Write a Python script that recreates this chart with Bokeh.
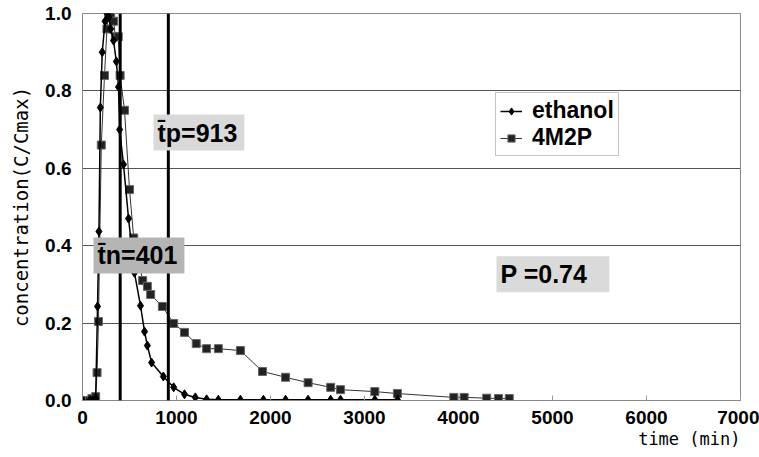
from bokeh.plotting import figure
from bokeh.models import (ColumnDataSource, Span, Label, Legend, LegendItem,
                          FixedTicker, NumeralTickFormatter, Range1d, Title)
from bokeh.embed import file_html
from bokeh.resources import INLINE

# ---- data ----
eth_t = [0, 75, 100, 140, 160, 175, 190, 210, 240, 260, 280, 300, 330, 360, 383, 395,
         436, 490, 553, 617, 660, 690, 735, 860, 970, 1085, 1200, 1320, 1445, 1680,
         1925, 2160, 2400, 2640, 2745, 3110, 3350]
eth_c = [0, 0, 0, 0.005, 0.243, 0.437, 0.757, 0.90, 0.98, 1.0, 0.99, 0.96, 0.93, 0.876,
         0.81, 0.70, 0.61, 0.47, 0.33, 0.245, 0.178, 0.142, 0.098, 0.062, 0.034, 0.016,
         0.008, 0.003, 0.002, 0.002, 0.002, 0.002, 0.002, 0.002, 0.002, 0.002, 0.002]

m4_t = [0, 75, 100, 140, 155, 170, 200, 234, 260, 280, 300, 330, 350, 380, 400, 447,
        500, 545, 640, 690, 725, 850, 970, 1085, 1210, 1320, 1445, 1680, 1915, 2160,
        2400, 2640, 2745, 3110, 3350, 3950, 4060, 4300, 4425, 4540]
m4_c = [0, 0, 0.005, 0.01, 0.072, 0.204, 0.66, 0.84, 0.96, 1.0, 1.0, 0.98, 0.94, 0.94,
        0.84, 0.75, 0.545, 0.42, 0.31, 0.295, 0.274, 0.243, 0.199, 0.176, 0.147, 0.134,
        0.134, 0.129, 0.075, 0.06, 0.046, 0.034, 0.028, 0.023, 0.018, 0.008, 0.008,
        0.006, 0.005, 0.005]

mean_times = [401, 913]
x_ticks = [0, 1000, 2000, 3000, 4000, 5000, 6000, 7000]
y_ticks = [0.0, 0.2, 0.4, 0.6, 0.8, 1.0]

TICK_FONT = "'Liberation Sans Narrow', 'Liberation Sans', sans-serif"
MONO_FONT = "'DejaVu Sans Mono', monospace"

p = figure(width=759, height=457, output_backend="svg", toolbar_location=None,
           x_range=Range1d(0, 7000), y_range=Range1d(0, 1.0),
           min_border_left=82, min_border_right=19, min_border_top=13,
           min_border_bottom=57)
p.background_fill_color = "white"
p.border_fill_color = "white"
p.outline_line_color = "#888888"
p.outline_line_width = 1

p.xgrid.visible = False
p.ygrid.grid_line_color = "#555555"
p.ygrid.grid_line_width = 1
p.ygrid.ticker = FixedTicker(ticks=y_ticks)

p.xaxis.ticker = FixedTicker(ticks=x_ticks)
p.yaxis.ticker = FixedTicker(ticks=y_ticks)
p.yaxis.formatter = NumeralTickFormatter(format="0.0")
for ax in (p.xaxis, p.yaxis):
    ax.axis_line_color = "#888888"
    ax.major_tick_out = 0
    ax.minor_tick_line_color = None
    ax.major_label_text_font = TICK_FONT
    ax.major_label_text_font_style = "bold"
    ax.major_label_text_font_size = "19px"
    ax.major_label_text_color = "black"
p.xaxis.major_tick_in = 5
p.xaxis.major_tick_line_color = "#999999"
p.yaxis.major_tick_in = 0
p.yaxis.major_tick_line_color = None
p.xaxis.major_label_standoff = 10
p.yaxis.major_label_standoff = 11

p.yaxis.axis_label = "concentration(C/Cmax)"
p.yaxis.axis_label_text_font = MONO_FONT
p.yaxis.axis_label_text_font_style = "normal"
p.yaxis.axis_label_text_font_size = "19px"
p.yaxis.axis_label_text_color = "black"
p.yaxis.axis_label_standoff = 10

# x-axis title, right aligned under the axis
xt = Title(text="time (min)", align="right", text_font=MONO_FONT,
           text_font_size="17px", text_font_style="normal", text_color="black",
           standoff=0)
p.add_layout(xt, "below")

# vertical mean-time lines
for t in mean_times:
    p.add_layout(Span(location=t, dimension="height", line_color="black", line_width=3))

src_e = ColumnDataSource(dict(t=eth_t, c=eth_c))
src_m = ColumnDataSource(dict(t=m4_t, c=m4_c))

lm = p.line("t", "c", source=src_m, line_color="#333333", line_width=1)
sm = p.scatter("t", "c", source=src_m, marker="square", size=8,
               fill_color="#222222", line_color="#666666", line_width=1)
le = p.line("t", "c", source=src_e, line_color="black", line_width=1.5)
se = p.scatter("t", "c", source=src_e, marker="diamond", size=9,
               fill_color="black", line_color="black")

legend = Legend(items=[LegendItem(label="ethanol", renderers=[le, se]),
                       LegendItem(label="4M2P", renderers=[lm, sm])],
                location=(413, 244))
legend.label_text_font = "'Liberation Sans', sans-serif"
legend.label_text_font_style = "bold"
legend.label_text_font_size = "23px"
legend.label_text_color = "black"
legend.label_text_line_height = 0.85
legend.border_line_color = "#888888"
legend.border_line_width = 1
legend.background_fill_color = "white"
legend.background_fill_alpha = 1
legend.glyph_width = 22
legend.glyph_height = 18
legend.label_height = 18
legend.spacing = 0
legend.padding = 4
legend.margin = 0
legend.label_standoff = 10
p.add_layout(legend, "center")

def box_label(x, y, text, fill, pad):
    lab = Label(x=x, y=y, text=text, text_align="left", text_baseline="middle",
                text_font="'Liberation Sans', sans-serif", text_font_style="bold",
                text_font_size="25px", text_color="black",
                background_fill_color=fill, background_fill_alpha=1,
                padding=pad)
    p.add_layout(lab)

box_label(755, 0.6925, "t\u0304p=913", "#d9d9d9", (4, 7, 4, 4))
box_label(117, 0.375, "t\u0304n=401", "#b5b5b5", (4, 7, 4, 4))
box_label(4404, 0.326, "P =0.74", "#dadada", (4, 22, 4, 4))

open("out.html", "w").write(file_html(p, INLINE))
